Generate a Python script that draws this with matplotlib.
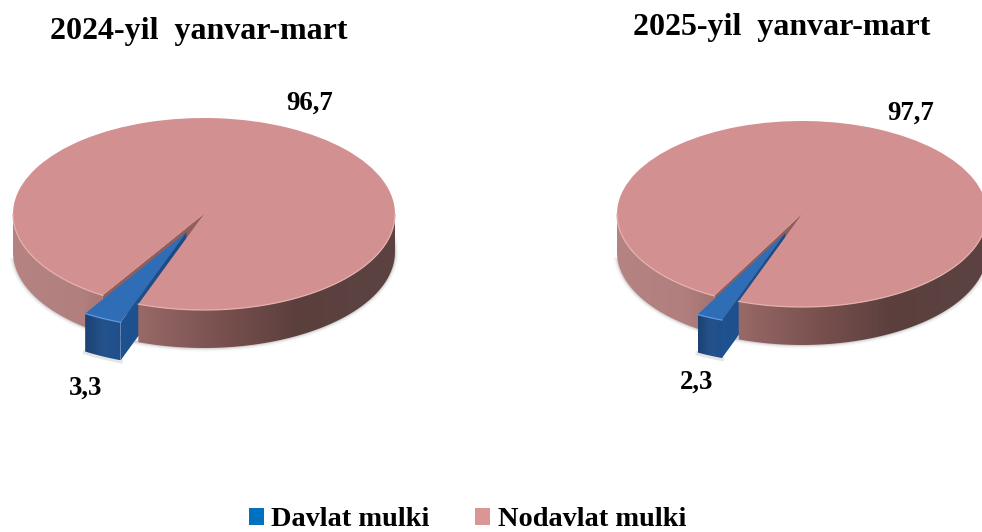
#!/usr/bin/env python
"""Ownership share pies (January-March 2024 vs 2025), drawn as tilted 3D discs."""
import numpy as np
import matplotlib
matplotlib.use("Agg")
import matplotlib.pyplot as plt
from matplotlib.colors import LinearSegmentedColormap
from matplotlib.patches import Polygon, Patch

CATEGORIES = ["Davlat mulki", "Nodavlat mulki"]
TITLES = ["2024-yil  yanvar-mart", "2025-yil  yanvar-mart"]
VALUES_2024 = [3.3, 96.7]
VALUES_2025 = [2.3, 97.7]

W, H = 982, 532
SERIF = "Liberation Serif"
LEGEND_COLORS = ["#0070C0", "#D99694"]
TOP_COLORS = ["#2F6DB6", "#D39090"]

pink_side = LinearSegmentedColormap.from_list("pink_side", [
    (0.0, "#B58382"), (0.18, "#B07F7E"), (0.34, "#966866"), (0.55, "#78504E"),
    (0.75, "#5A3F3D"), (1.0, "#5C4341")])
blue_side = LinearSegmentedColormap.from_list("blue_side", ["#1C4273", "#24528C", "#1F4F8C"])
blue_cut = LinearSegmentedColormap.from_list("blue_cut", ["#1E5290", "#1B4A84"])


def arc(center, t1, t2, n=120):
    t = np.radians(np.linspace(t1, t2, n))
    return center[0] + np.cos(t), center[1] + np.sin(t)


def grad_fill(ax, verts, cmap, x0, x1, z):
    """Horizontal gradient clipped to a polygon."""
    patch = Polygon(verts, closed=True, fc="none", ec="none", transform=ax.transData)
    ax.add_patch(patch)
    ys = [v[1] for v in verts]
    im = ax.imshow(np.linspace(0, 1, 256)[None, :], cmap=cmap, aspect="auto",
                   extent=(x0, x1, min(ys), max(ys)), zorder=z, interpolation="bilinear")
    im.set_clip_path(patch)


def side_verts(center, t1, t2, depth):
    x, y = arc(center, t1, t2)
    top = np.column_stack([x, y])
    bot = np.column_stack([x, y - depth])[::-1]
    return np.vstack([top, bot])


def pie_3d(box, cx, cy, rx, ry, depth_px, values, start, explode, label_px):
    x0, x1 = box
    ax = fig.add_axes([x0 / W, 0, (x1 - x0) / W, 1])
    xlim = ((x0 - cx) / rx, (x1 - cx) / rx)
    ylim = ((cy - H) / ry, cy / ry)
    depth = depth_px / ry
    wedges, _ = ax.pie(values, colors=TOP_COLORS, startangle=start, explode=[explode, 0],
                       radius=1, wedgeprops={"linewidth": 0})
    blue, pink = wedges
    t1, t2 = blue.theta1, blue.theta2
    bc = blue.center
    pc = pink.center

    # soft shadow under the front edge
    for lw, a in [(5, 0.05), (3, 0.08), (1.5, 0.14)]:
        x, y = arc(pc, 185, 372)
        ax.plot(x, y - depth, color="#555555", lw=lw, alpha=a, zorder=0.5)
    x, y = arc(bc, t1, t2, 20)
    ax.plot(x, y - depth - 0.01, color="#555555", lw=3, alpha=0.15, zorder=0.6)

    # disc wall left of the gap sits behind the slice, the part right of it in front
    grad_fill(ax, side_verts(pc, 180, t1, depth), pink_side, -1, 1, 1)
    # gap floor and its inner wall
    gx, gy = arc(pc, t1, t2, 20)
    ax.add_patch(Polygon(np.column_stack([[pc[0], *gx], [pc[1], *gy]]), fc="#8E5F5D", ec="none", zorder=2))
    edge = np.array([pc[0] + np.cos(np.radians(t1)), pc[1] + np.sin(np.radians(t1))])
    ax.add_patch(Polygon([pc, edge, edge - [0, depth], np.array(pc) - [0, depth]],
                         fc="#8E5F5D", ec="none", zorder=2))

    # slice walls
    c = np.array(bc)
    rim = c + [np.cos(np.radians(t2)), np.sin(np.radians(t2))]
    cut = [c, rim, rim - [0, depth], c - [0, depth]]
    grad_fill(ax, cut, blue_cut, rim[0], c[0], 3)
    rx0 = c[0] + np.cos(np.radians(t1))
    grad_fill(ax, side_verts(bc, t1, t2, depth), blue_side, rx0, rim[0], 3.1)

    grad_fill(ax, side_verts(pc, t2, 360, depth), pink_side, -1, 1, 4)
    pink.set_zorder(5)
    blue.set_zorder(6)

    # light rim along the front edges
    x, y = arc(pc, t2, 360)
    ax.plot(x, y, color="#E6B0AD", lw=0.9, zorder=5.5)
    x, y = arc(pc, 180, t1)
    ax.plot(x, y, color="#E6B0AD", lw=0.9, zorder=5.5)
    x, y = arc(bc, t1, t2, 20)
    ax.plot(x, y, color="#5C9BE0", lw=0.9, zorder=6.5)

    ax.set_aspect("auto")
    ax.set_xlim(xlim)
    ax.set_ylim(ylim)
    ax.set_position([x0 / W, 0, (x1 - x0) / W, 1])
    ax.axis("off")
    ax.patch.set_alpha(0)

    for v, (px, py) in zip(values, label_px):
        fig.text(px / W, 1 - py / H, f"{v:.1f}".replace(".", ","), family=SERIF,
                 weight="bold", fontsize=19.3, ha="center", va="center", color="black")


fig = plt.figure(figsize=(W / 100, H / 100), dpi=100, facecolor="white")
plt.rcParams["font.family"] = SERIF

pie_3d((0, 491), 204, 214, 191, 96, 38, VALUES_2024, 238.0, 0.21, [(86, 388), (310, 103)])
pie_3d((491, 982), 802, 214, 185, 93, 38, VALUES_2025, 241.7, 0.22, [(697, 382), (911, 113)])

fig.text(198.5 / W, 1 - 31 / H, TITLES[0], family=SERIF, weight="bold", fontsize=23, ha="center", va="center")
fig.text(781.5 / W, 1 - 27 / H, TITLES[1], family=SERIF, weight="bold", fontsize=23, ha="center", va="center")

handles = [Patch(fc=c, ec="none") for c in LEGEND_COLORS]
fig.legend(handles, CATEGORIES, loc="center", bbox_to_anchor=(467.5 / W, 1 - 520 / H), ncol=2,
           frameon=False, handlelength=0.53, handleheight=0.53, handletextpad=0.25,
           columnspacing=1.62, borderpad=0, prop={"family": SERIF, "weight": "bold", "size": 20.4})

fig.savefig("out.png", dpi=100)
